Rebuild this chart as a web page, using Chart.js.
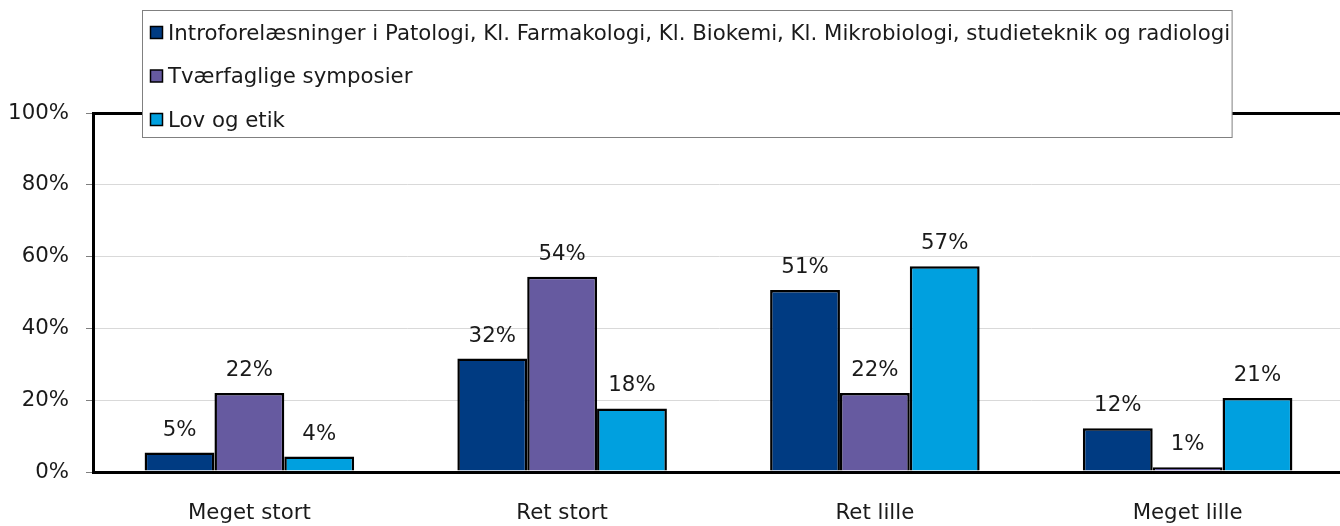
<!DOCTYPE html>
<html>
<head>
<meta charset="utf-8">
<script src="https://cdn.jsdelivr.net/npm/chart.js@4/dist/chart.umd.min.js"></script>
<style>
    html, body { margin: 0; padding: 0; background: #fff; overflow: hidden; }
    .chart-box { width: 1344px; height: 526px; }
</style>
</head>
<body>
<div class="chart-box"><canvas id="barChart"></canvas></div>
<script>
const categories = ['Meget stort', 'Ret stort', 'Ret lille', 'Meget lille']
const seriesNames = [
    'Introforelæsninger i Patologi, Kl. Farmakologi, Kl. Biokemi, Kl. Mikrobiologi, studieteknik og radiologi',
    'Tværfaglige symposier',
    'Lov og etik'
]
const introValues = [5.4, 31.6, 50.7, 12.2]
const tvaerValues = [22.0, 54.4, 22.0, 1.3]
const lovValues = [4.3, 17.7, 57.3, 20.6]
const yTicks = [0, 20, 40, 60, 80, 100]

const colors = ['#003b82', '#665aa0', '#00a0df']
const fontName = '"DejaVu Sans", sans-serif'
const fontSize = 21.3

// value labels above each bar
const valueLabels = {
    id: 'valueLabels',
    afterDatasetsDraw(chart) {
        const ctx = chart.ctx
        ctx.save()
        ctx.font = fontSize + 'px ' + fontName
        ctx.fillStyle = '#1a1a1a'
        ctx.textAlign = 'center'
        ctx.textBaseline = 'alphabetic'
        chart.data.datasets.forEach((ds, i) => {
            chart.getDatasetMeta(i).data.forEach((bar, j) => {
                ctx.fillText(Math.round(ds.data[j]) + '%', bar.x, bar.y - 17)
            })
        })
        ctx.restore()
    }
}

// legend box drawn over the top of the plot area
const boxLegend = {
    id: 'boxLegend',
    afterDraw(chart) {
        const ctx = chart.ctx
        ctx.save()
        ctx.font = fontSize + 'px ' + fontName
        var maxW = 0
        for (const ds of chart.data.datasets) {
            maxW = Math.max(maxW, ctx.measureText(ds.label).width)
        }
        const left = 142.5, top = 10.5, rowH = 43.5
        const w = 168 - left + maxW + 2
        const h = 127
        ctx.fillStyle = '#fff'
        ctx.fillRect(left, top, w, h)
        ctx.strokeStyle = '#808080'
        ctx.lineWidth = 1
        ctx.strokeRect(left, top, w, h)
        ctx.textBaseline = 'middle'
        ctx.textAlign = 'left'
        chart.data.datasets.forEach((ds, i) => {
            const cy = 33 + i * rowH
            ctx.fillStyle = ds.backgroundColor
            ctx.fillRect(150.5, cy - 6.5, 12, 12)
            ctx.strokeStyle = '#000'
            ctx.lineWidth = 1.5
            ctx.strokeRect(150.5, cy - 6.5, 12, 12)
            ctx.fillStyle = '#1a1a1a'
            ctx.fillText(ds.label, 168, cy + 1)
        })
        ctx.restore()
    }
}

new Chart(document.getElementById('barChart'), {
    type: 'bar',
    data: {
        labels: categories,
        datasets: [
            { label: seriesNames[0], data: introValues, backgroundColor: colors[0] },
            { label: seriesNames[1], data: tvaerValues, backgroundColor: colors[1] },
            { label: seriesNames[2], data: lovValues, backgroundColor: colors[2] }
        ].map(ds => Object.assign(ds, {
            borderColor: '#000',
            borderWidth: 2.5,
            borderSkipped: 'bottom',
            categoryPercentage: 0.67,
            barPercentage: 1
        }))
    },
    options: {
        responsive: true,
        maintainAspectRatio: false,
        animation: false,
        layout: { padding: { top: 113, left: 0, right: 0, bottom: 0 } },
        plugins: {
            legend: { display: false },
            tooltip: { enabled: false }
        },
        scales: {
            x: {
                grid: { display: false },
                border: { color: '#000', width: 3 },
                ticks: { color: '#1a1a1a', font: { family: fontName, size: fontSize }, padding: 21 },
                afterFit(scale) { scale.height = 54 }
            },
            y: {
                min: 0,
                max: 100,
                afterBuildTicks(scale) { scale.ticks = yTicks.map(v => ({ value: v })) },
                grid: {
                    color: c => (c.tick && (c.tick.value === 100 || c.tick.value === 0)) ? '#000' : '#d9d9d9',
                    lineWidth: c => (c.tick && (c.tick.value === 100 || c.tick.value === 0)) ? 3 : 1,
                    tickColor: '#7f7f7f',
                    tickLength: 7,
                    tickWidth: 1
                },
                border: { color: '#000', width: 3 },
                ticks: {
                    color: '#1a1a1a',
                    font: { family: fontName, size: fontSize },
                    padding: 17,
                    callback: v => v + '%'
                },
                afterFit(scale) { scale.width = 93 }
            }
        }
    },
    plugins: [valueLabels, boxLegend]
})
</script>
</body>
</html>
